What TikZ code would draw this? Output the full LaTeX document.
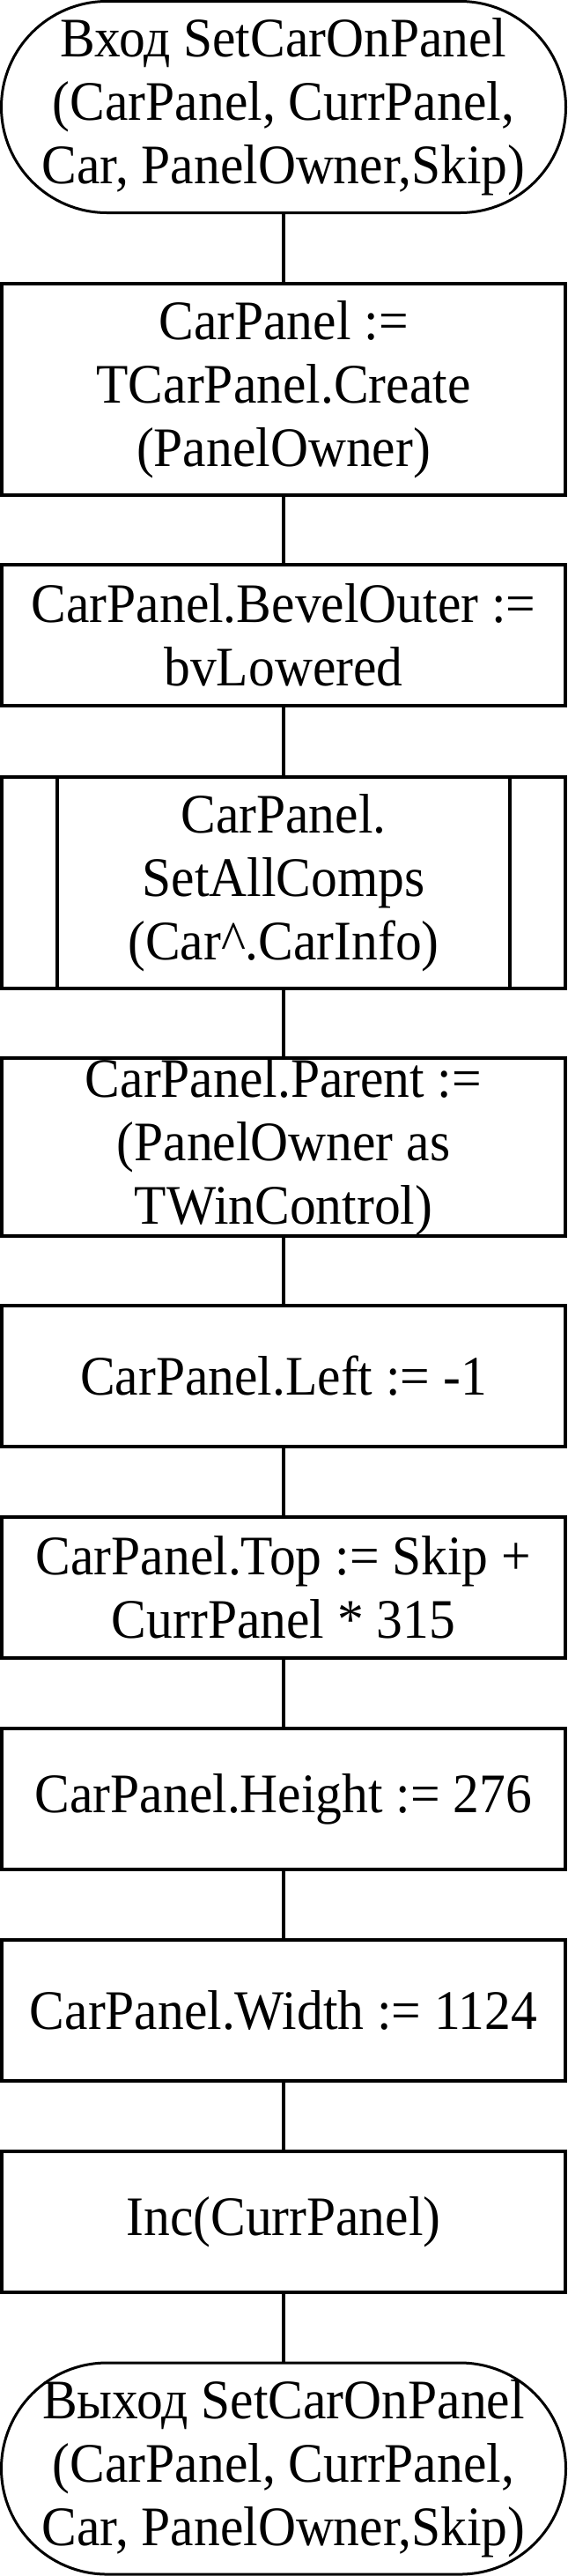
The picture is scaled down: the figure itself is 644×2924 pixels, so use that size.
\documentclass[tikz,border=0pt]{standalone}
\usepackage{fontspec}
\setmainfont[FakeStretch=0.94]{Liberation Serif}
\begin{document}
\begin{tikzpicture}[x=0.75pt,y=-0.75pt]
\tikzstyle{term}=[rectangle, rounded corners=90pt, draw=black, line width=2.25pt, minimum width=480.75pt, minimum height=180pt, inner sep=0pt, align=center, font=\fontsize{47.5}{54}\selectfont]
\tikzstyle{proc}=[rectangle, draw=black, line width=3pt, minimum width=480pt, minimum height=120pt, inner sep=0pt, align=center, font=\fontsize{47.5}{54}\selectfont]
\tikzstyle{tall}=[minimum height=180pt]
\tikzstyle{mid}=[minimum height=150pt]
\tikzstyle{connect}=[line width=3pt]
\useasboundingbox (0,0) rectangle (644,2924);

	\node[term] (start) at (322,121.5) {Вход SetCarOnPanel\\(CarPanel, CurrPanel,\\Car, PanelOwner,Skip)};
	\node[proc,tall] (p_1) at (322,442) {CarPanel :=\\TCarPanel.Create\\(PanelOwner)};
	\node[proc] (p_2) at (322,721) {CarPanel.BevelOuter :=\\bvLowered};
	\node[proc,tall] (p_3) at (322,1002) {CarPanel.\\SetAllComps\\(Car\^{}.CarInfo)};
	\node[proc,mid] (p_4) at (322,1302) {CarPanel.Parent :=\\(PanelOwner as\\TWinControl)};
	\node[proc] (p_5) at (322,1562) {CarPanel.Left := -1};
	\node[proc] (p_6) at (322,1802) {CarPanel.Top := Skip +\\CurrPanel * 315};
	\node[proc] (p_7) at (322,2042) {CarPanel.Height := 276};
	\node[proc] (p_8) at (322,2282) {CarPanel.Width := 1124};
	\node[proc] (p_9) at (322,2522) {Inc(CurrPanel)};
	\node[term] (stop) at (322,2802) {Выход SetCarOnPanel\\(CarPanel, CurrPanel,\\Car, PanelOwner,Skip)};

	% side bars of the subroutine block
	\draw[connect] ([xshift=48.75pt]p_3.north west) -- ([xshift=48.75pt]p_3.south west);
	\draw[connect] ([xshift=-48.75pt]p_3.north east) -- ([xshift=-48.75pt]p_3.south east);

	\path
		(start) edge[connect] (p_1)
		(p_1) edge[connect] (p_2)
		(p_2) edge[connect] (p_3)
		(p_3) edge[connect] (p_4)
		(p_4) edge[connect] (p_5)
		(p_5) edge[connect] (p_6)
		(p_6) edge[connect] (p_7)
		(p_7) edge[connect] (p_8)
		(p_8) edge[connect] (p_9)
		(p_9) edge[connect] (stop);

\end{tikzpicture}
\end{document}
